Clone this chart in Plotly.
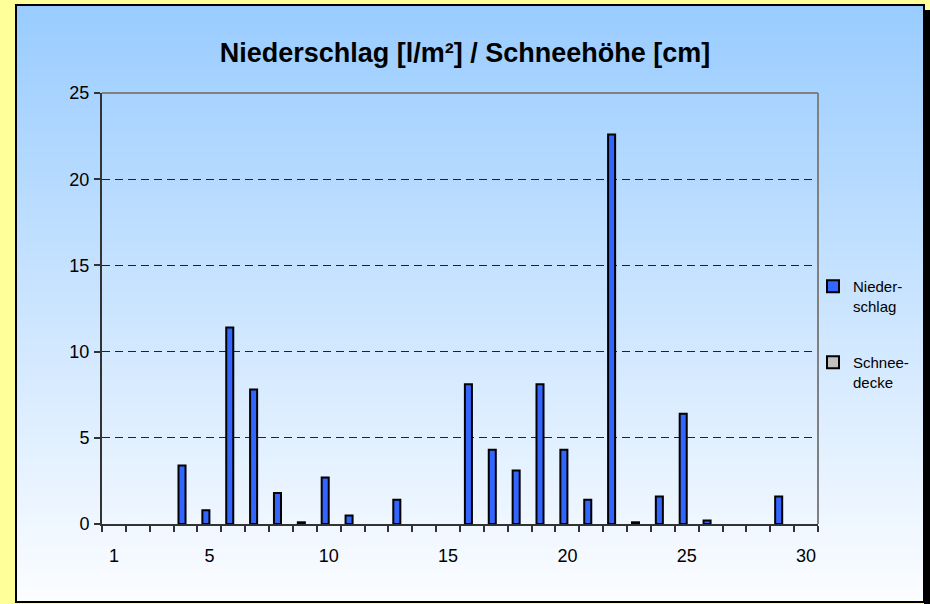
import base64, struct, zlib
import plotly.graph_objects as go

# ---- data ----
days = list(range(1, 31))
niederschlag = [0, 0, 0, 3.4, 0.8, 11.4, 7.8, 1.8, 0.1, 2.7,
                0.5, 0, 1.4, 0, 0, 8.1, 4.3, 3.1, 8.1, 4.3,
                1.4, 22.6, 0.1, 1.6, 6.4, 0.2, 0, 0, 1.6, 0]
schneedecke = [0] * 30
x_tickvals = [1, 5, 10, 15, 20, 25, 30]
x_ticktext = ["1", "5", "10", "15", "20", "25", "30"]
y_tickvals = [0, 5, 10, 15, 20, 25]

TITLE = "Niederschlag [l/m²] / Schneehöhe [cm]"
FONT = "Liberation Sans, Arial, sans-serif"

W, H = 930, 604
L, R, T, B = 102, 818, 93, 524  # plot area in px


def px(xp):
    return (xp - L) / (R - L)


def py(yp):
    return (B - yp) / (B - T)


def nz(vals):
    # zero values are not drawn as bars
    return [v if v else None for v in vals]


def gradient_png(top, bottom, h=300, w=4):
    raw = b""
    for i in range(h):
        t = i / (h - 1)
        c = [round(top[k] + (bottom[k] - top[k]) * t) for k in range(3)]
        raw += b"\x00" + bytes(c * w)

    def chunk(tag, data):
        return (struct.pack(">I", len(data)) + tag + data +
                struct.pack(">I", zlib.crc32(tag + data) & 0xFFFFFFFF))

    png = (b"\x89PNG\r\n\x1a\n" +
           chunk(b"IHDR", struct.pack(">IIBBBBB", w, h, 8, 2, 0, 0, 0)) +
           chunk(b"IDAT", zlib.compress(raw)) + chunk(b"IEND", b""))
    return "data:image/png;base64," + base64.b64encode(png).decode()


grad = gradient_png((153, 204, 255), (252, 253, 255))

fig = go.Figure()
fig.add_trace(go.Bar(x=days, y=nz(niederschlag), name="Nieder-<br>schlag",
                     marker=dict(color="#3366ff", line=dict(color="black", width=2)),
                     legendgroup="a"))
fig.add_trace(go.Bar(x=days, y=nz(schneedecke), name="Schnee-<br>decke",
                     marker=dict(color="#c0c0c0", line=dict(color="black", width=2)),
                     legendgroup="b"))

fig.update_layout(
    width=W, height=H,
    margin=dict(l=L, r=W - R, t=T, b=H - B, pad=0),
    paper_bgcolor="#ffff99",
    plot_bgcolor="rgba(0,0,0,0)",
    barmode="group", bargap=0.41, bargroupgap=0,
    font=dict(family=FONT, color="black", size=18),
    title=dict(text="<b>" + TITLE + "</b>", x=0.5, xref="container", xanchor="center",
               y=1 - 53 / H, yref="container", yanchor="middle",
               font=dict(family=FONT, size=27, color="black")),
    showlegend=True,
    legend=dict(x=px(813), y=py(270), xanchor="left", yanchor="top",
                bgcolor="rgba(0,0,0,0)", borderwidth=0,
                font=dict(family=FONT, size=15, color="black"),
                traceorder="grouped", tracegroupgap=34, valign="top",
                itemwidth=30),
    xaxis=dict(range=[0.5, 30.5], tickmode="array", tickvals=x_tickvals, ticktext=x_ticktext,
               ticks="", showgrid=False, zeroline=False,
               showline=True, linecolor="#333333", linewidth=2,
               ticklabelstandoff=14,
               minor=dict(tick0=0.5, dtick=1, ticks="outside", ticklen=6,
                          tickcolor="#333333", tickwidth=1.5, showgrid=False)),
    yaxis=dict(range=[0, 25], tickmode="array", tickvals=y_tickvals,
               ticks="outside", ticklen=6, tickcolor="#333333", tickwidth=1.5,
               showline=True, linecolor="#333333", linewidth=2,
               showgrid=True, gridcolor="#222222", gridwidth=1, griddash="8px,5px",
               zeroline=False, ticklabelstandoff=1),
    images=[dict(source=grad, xref="paper", yref="paper",
                 x=px(15), y=py(4), sizex=px(924) - px(15), sizey=py(4) - py(602),
                 xanchor="left", yanchor="top", sizing="stretch", layer="below")],
    shapes=[
        dict(type="rect", xref="paper", yref="paper", x0=px(924), x1=px(935),
             y0=py(10), y1=py(620), fillcolor="black", line=dict(width=0), layer="below"),
        dict(type="rect", xref="paper", yref="paper", x0=px(16), x1=px(924),
             y0=py(5), y1=py(602), fillcolor="rgba(0,0,0,0)",
             line=dict(color="black", width=2), layer="below"),
        dict(type="line", xref="paper", yref="paper", x0=0, x1=1, y0=1, y1=1,
             line=dict(color="#808080", width=2), layer="above"),
        dict(type="line", xref="paper", yref="paper", x0=1, x1=1, y0=0, y1=1,
             line=dict(color="#808080", width=2), layer="above"),
    ],
)

fig.write_html("out.html", config={"displayModeBar": False},
               post_script="document.body.style.margin='0';document.body.style.overflow='hidden';")
